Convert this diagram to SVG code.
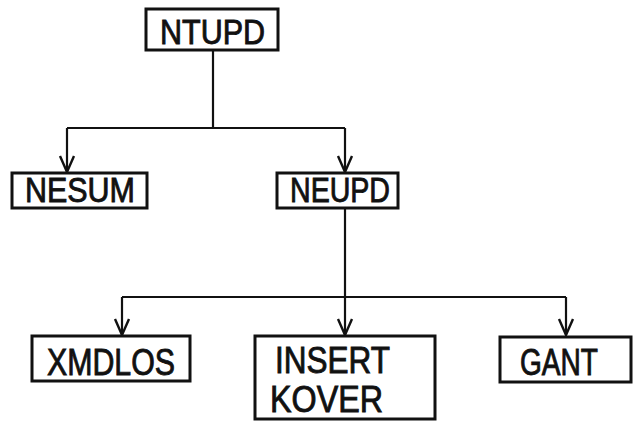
<svg xmlns="http://www.w3.org/2000/svg" width="633" height="421" viewBox="0 0 633 421">
<style>
.box{fill:#fff;stroke:#111;stroke-width:3}
.t{font-family:"Liberation Sans",Arial,sans-serif;font-size:35px;fill:#111;stroke:#111;stroke-width:0.9}
.b{font-size:37px}
.c{fill:none;stroke:#111;stroke-width:2.2}
</style>
<defs>
<marker id="ah" viewBox="0 0 20 20" refX="18" refY="10" markerWidth="20" markerHeight="20" markerUnits="userSpaceOnUse" orient="auto">
<path d="M2,3 L18,10 L2,17" fill="none" stroke="#111" stroke-width="2.4"/>
</marker>
</defs>
<rect width="633" height="421" fill="#fff"/>
<g id="connectors">
<path class="c" d="M213,50 V128"/>
<path class="c" d="M67,128 H345"/>
<path class="c" d="M67,128 V172" marker-end="url(#ah)"/>
<path class="c" d="M345,128 V172" marker-end="url(#ah)"/>
<path class="c" d="M345,208 V297"/>
<path class="c" d="M122,297 H566"/>
<path class="c" d="M122,297 V335" marker-end="url(#ah)"/>
<path class="c" d="M345,297 V335" marker-end="url(#ah)"/>
<path class="c" d="M566,297 V335" marker-end="url(#ah)"/>
</g>
<g id="NTUPD">
<rect class="box" x="146" y="9" width="132" height="41"/>
<text class="t" x="160" y="44" textLength="105" lengthAdjust="spacingAndGlyphs">NTUPD</text>
</g>
<g id="NESUM">
<rect class="box" x="12" y="173" width="135" height="35"/>
<text class="t" x="25" y="202" textLength="110" lengthAdjust="spacingAndGlyphs">NESUM</text>
</g>
<g id="NEUPD">
<rect class="box" x="277" y="173" width="121" height="35"/>
<text class="t" x="290" y="202" textLength="100" lengthAdjust="spacingAndGlyphs">NEUPD</text>
</g>
<g id="XMDLOS">
<rect class="box" x="32" y="336" width="158" height="45"/>
<text class="t b" x="47" y="375" textLength="128" lengthAdjust="spacingAndGlyphs">XMDLOS</text>
</g>
<g id="INSERT_KOVER">
<rect class="box" x="255" y="336" width="180" height="83"/>
<text class="t b" x="275" y="373" textLength="115" lengthAdjust="spacingAndGlyphs">INSERT</text>
<text class="t b" x="270" y="412" textLength="113" lengthAdjust="spacingAndGlyphs">KOVER</text>
</g>
<g id="GANT">
<rect class="box" x="500" y="337" width="131" height="45"/>
<text class="t b" x="520" y="375" textLength="78" lengthAdjust="spacingAndGlyphs">GANT</text>
</g>
</svg>
